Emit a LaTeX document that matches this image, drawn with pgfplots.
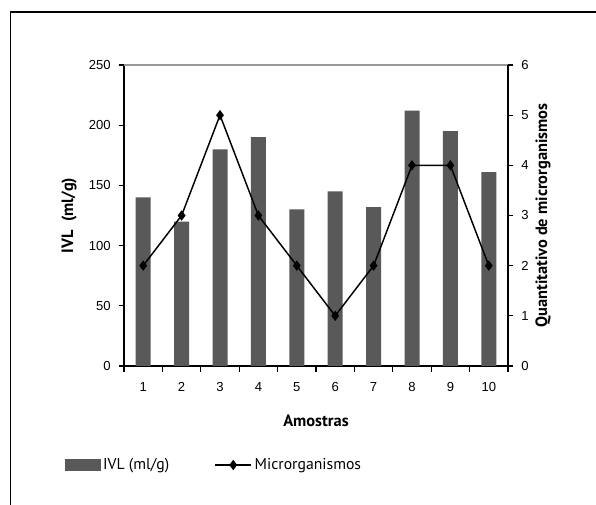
\documentclass[border=0pt]{standalone}
\usepackage{pgfplots}
\pgfplotsset{compat=1.18}
\usepackage{fontspec}
\setmainfont{PT Sans}
\newfontfamily\tickfont{Liberation Sans}
\definecolor{barc}{HTML}{595959}
\pgfplotsset{mylineleg/.style={legend image code/.code={\draw[mark repeat=2,mark phase=2,##1] plot coordinates {(0pt,0pt) (13.5pt,0pt) (27pt,0pt)};}}}
\begin{document}
\begin{tikzpicture}
\path[use as bounding box] (0,0) rectangle (447pt,378.75pt);
\draw[line width=0.9pt] (7.9pt,0pt) -- (7.9pt,369.75pt) -- (447pt,369.75pt);
\begin{axis}[
  at={(93pt,104.25pt)}, anchor=south west, scale only axis,
  width=288pt, height=225.75pt,
  xmin=0.5, xmax=10.5, ymin=0, ymax=250,
  axis x line*=bottom, axis y line*=left,
  axis line style={line width=0.8pt},
  ybar, bar width=11.25pt, bar shift=0pt,
  xtick={1,2,3,4,5,6,7,8,9,10},
  minor xtick={0.5,1.5,2.5,3.5,4.5,5.5,6.5,7.5,8.5,9.5,10.5},
  ytick={0,50,100,150,200,250},
  extra y ticks={250}, extra y tick labels={},
  extra y tick style={grid=major, major grid style={gray!80, line width=0.8pt}},
  tick align=outside,
  major tick length=4pt, minor tick length=4.5pt,
  major x tick style={draw=none},
  tick style={black, line width=0.8pt},
  tick label style={font=\tickfont\fontsize{9.8}{11}\selectfont},
  x tick label style={yshift=-5pt},
  y tick label style={xshift=-2.5pt},
  /pgf/number format/assume math mode=true,
  xlabel={\bfseries Amostras},
  xlabel style={at={(axis description cs:0.5,-0.183)}, anchor=center, font=\fontsize{12.3}{14}\selectfont},
  ylabel={\bfseries IVL\ \ (ml/g)},
  ylabel style={at={(axis description cs:-0.143,0.5)}, anchor=center, font=\fontsize{12.3}{14}\selectfont},
]
\addplot[fill=barc, draw=none] coordinates {
(1,140) (2,120) (3,180) (4,190) (5,130) (6,145) (7,132) (8,212) (9,195) (10,161)};
\end{axis}
\begin{axis}[
  at={(93pt,104.25pt)}, anchor=south west, scale only axis,
  width=288pt, height=225.75pt,
  xmin=0.5, xmax=10.5, ymin=0, ymax=6,
  axis x line=none, axis y line*=right,
  axis line style={line width=0.8pt},
  ytick={0,1,2,3,4,5,6},
  tick align=outside, major tick length=4pt,
  tick style={black, line width=0.8pt},
  tick label style={font=\tickfont\fontsize{9.8}{11}\selectfont},
  y tick label style={xshift=2.5pt},
  /pgf/number format/assume math mode=true,
  ylabel={\bfseries Quantitativo de microrganismos},
  ylabel style={at={(axis description cs:1.091,0.5)}, anchor=center, font=\fontsize{12.3}{14}\selectfont},
  legend style={at={(axis description cs:-0.1536,-0.329)}, anchor=west, draw=none, fill=none,
    inner sep=0pt, font=\fontsize{11.8}{13}\selectfont, column sep=0pt,
    /tikz/every even column/.append style={column sep=32pt}},
  legend columns=2, legend cell align=left,
]
\addlegendimage{legend image code/.code={\fill[barc] (0pt,-4pt) rectangle (26pt,4pt);}}
\addlegendentry{IVL (ml/g)}
\addplot[black, line width=1.1pt, mark=diamond*, mark size=3pt, mylineleg]
 coordinates {(1,2) (2,3) (3,5) (4,3) (5,2) (6,1) (7,2) (8,4) (9,4) (10,2)};
\addlegendentry{Microrganismos}
\end{axis}
\end{tikzpicture}
\end{document}
